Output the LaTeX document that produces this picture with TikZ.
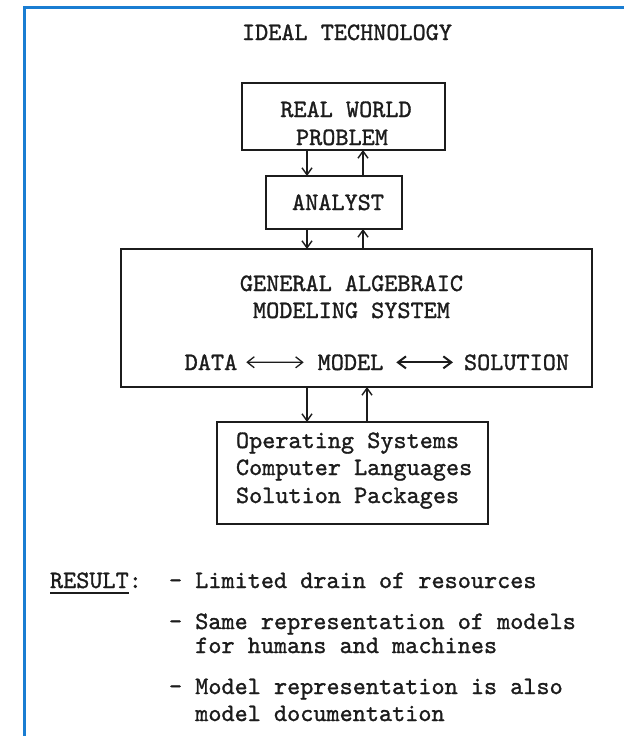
\documentclass[tikz,border=0pt]{standalone}
\usepackage{fontspec}
\usetikzlibrary{arrows.meta}
\newfontfamily\twfont{lmmono10-regular.otf}[FakeBold=1.2]
\definecolor{frameblue}{RGB}{25,125,210}
\definecolor{ink}{RGB}{28,28,28}
\begin{document}
\begin{tikzpicture}[x=1pt,y=-1pt,
  every node/.style={inner sep=0pt, outer sep=0pt, text=ink},
  tw/.style={font=\fontsize{25}{27.5}\selectfont\twfont\bfseries},
  boxframe/.style={draw=ink, line width=1.6pt, rectangle},
  vflow/.style={-{Straight Barb[length=7pt,width=10pt]}, draw=ink, line width=1.4pt},
  hflow/.style={{Straight Barb[length=7pt,width=11pt]}-{Straight Barb[length=7pt,width=11pt]}, draw=ink, line width=1.3pt},
  hflowb/.style={{Straight Barb[length=8pt,width=12pt]}-{Straight Barb[length=8pt,width=12pt]}, draw=ink, line width=2pt},
  frameline/.style={draw=frameblue, line width=3pt}
]
\useasboundingbox (0,0) rectangle (624,736);
\fill[white] (0,0) rectangle (624,736);
\draw[frameline] (24,736) -- (24,7) -- (624,7);

% title
\node[tw, anchor=base] (title) at (347,40) {IDEAL TECHNOLOGY};

% real world box
\node[boxframe, minimum width=203pt, minimum height=67pt] (rw) at (343.5,116.5) {};
\node[tw, anchor=base] (rw1) at (346,117) {REAL WORLD};
\node[tw, anchor=base] (rw2) at (342,145) {PROBLEM};

% analyst box
\node[boxframe, minimum width=136pt, minimum height=53pt] (an) at (334,202.5) {};
\node[tw, anchor=base] (ant) at (338,210) {ANALYST};

% GAMS box
\node[boxframe, minimum width=471pt, minimum height=138pt] (gams) at (356.5,318) {};
\node[tw, anchor=base] (g1) at (351.5,291) {GENERAL ALGEBRAIC};
\node[tw, anchor=base] (g2) at (351.5,318) {MODELING SYSTEM};
\node[tw, anchor=base] (data) at (211,370) {DATA};
\node[tw, anchor=base] (model) at (350.5,370) {MODEL};
\node[tw, anchor=base] (sol) at (516.5,370) {SOLUTION};
\draw[hflow, shorten <=9pt, shorten >=14pt] (data.east) -- (model.west);
\draw[hflowb, shorten <=13pt, shorten >=11pt] (model.east) -- (sol.west);

% bottom box
\node[boxframe, minimum width=271pt, minimum height=102pt] (os) at (352.5,473) {};
\node[tw, anchor=base west] (os1) at (236,448) {Operating Systems};
\node[tw, anchor=base west] (os2) at (236,475) {Computer Languages};
\node[tw, anchor=base west] (os3) at (236,503) {Solution Packages};

% vertical connectors
\coordinate (c1) at (307,0);
\coordinate (c2) at (363,0);
\coordinate (c3) at (367,0);
\draw[vflow] (rw.south -| c1) -- (an.north -| c1);
\draw[vflow] (an.north -| c2) -- (rw.south -| c2);
\draw[vflow] (an.south -| c1) -- (gams.north -| c1);
\draw[vflow] (gams.north -| c2) -- (an.south -| c2);
\draw[vflow] (gams.south -| c1) -- (os.north -| c1);
\draw[vflow] (os.north -| c3) -- (gams.south -| c3);

% result text
\node[tw, anchor=base west] (res) at (50,588) {RESULT:};
\draw[draw=ink, line width=1.8pt] ([yshift=-5pt]res.base west) -- ++(79,0);
\node[tw, anchor=base west] (r1) at (169,588) {- Limited drain of resources};
\node[tw, anchor=base west] (r2) at (169,629) {- Same representation of models};
\node[tw, anchor=base west] (r3) at (195.25,653) {for humans and machines};
\node[tw, anchor=base west] (r4) at (169,694) {- Model representation is also};
\node[tw, anchor=base west] (r5) at (195.25,721) {model documentation};
\end{tikzpicture}
\end{document}
